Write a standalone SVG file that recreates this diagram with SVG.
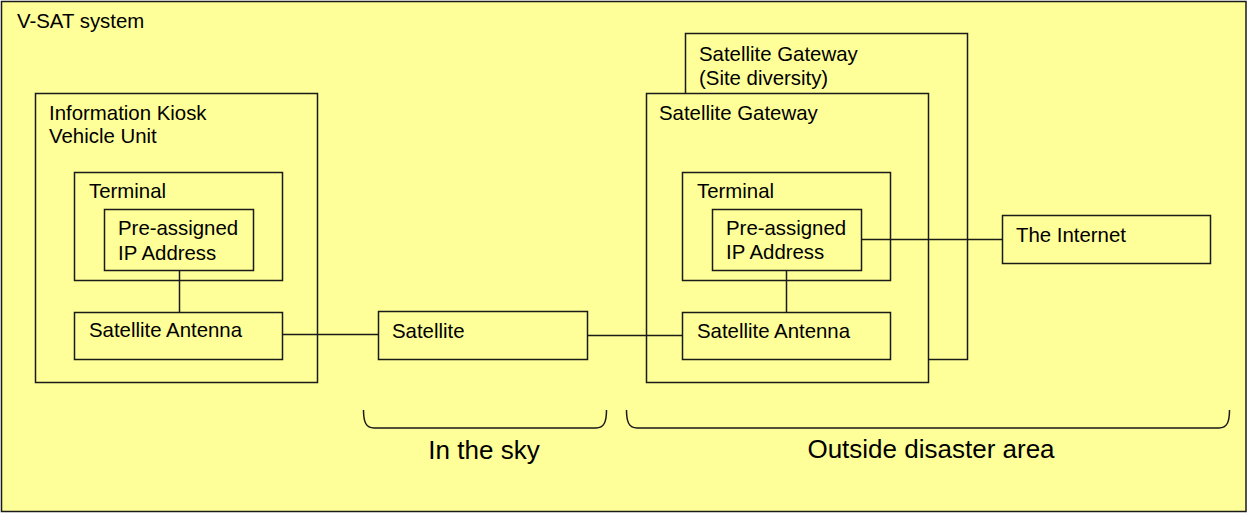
<svg xmlns="http://www.w3.org/2000/svg" width="1248" height="513" viewBox="0 0 1248 513">
<style>
.box{fill:#ffff99;stroke:#1a1a1a;stroke-width:1.5}
.ln{fill:none;stroke:#1a1a1a;stroke-width:1.5}
text{font-family:"Liberation Sans",Arial,sans-serif;font-size:20.4px;fill:#000}
.big{font-size:26px}
</style>
<g id="vsat-system">
<rect class="box" x="1.5" y="1.5" width="1244.5" height="510"/>
<text x="17" y="28">V-SAT system</text>
</g>
<g id="kiosk">
<rect class="box" x="35.5" y="93.5" width="282" height="289"/>
<text x="49" y="120">Information Kiosk</text>
<text x="49" y="143">Vehicle Unit</text>
</g>
<g id="kiosk-terminal">
<rect class="box" x="74.5" y="172.5" width="208" height="108"/>
<text x="89" y="198">Terminal</text>
</g>
<g id="kiosk-ip">
<rect class="box" x="104.5" y="209.5" width="149" height="61"/>
<text x="118" y="235">Pre-assigned</text>
<text x="118" y="260">IP Address</text>
</g>
<g id="kiosk-antenna">
<rect class="box" x="74.5" y="312.5" width="208" height="47"/>
<text x="89" y="337">Satellite Antenna</text>
</g>
<g id="satellite">
<rect class="box" x="378.5" y="311.5" width="209" height="48"/>
<text x="392" y="338">Satellite</text>
</g>
<g id="gateway-diversity">
<rect class="box" x="685.5" y="33.5" width="282" height="326"/>
<text x="699" y="61">Satellite Gateway</text>
<text x="699" y="85">(Site diversity)</text>
</g>
<g id="gateway">
<rect class="box" x="646.5" y="93.5" width="282" height="289"/>
<text x="659" y="120">Satellite Gateway</text>
</g>
<g id="gateway-terminal">
<rect class="box" x="682.5" y="172.5" width="208" height="108"/>
<text x="697" y="198">Terminal</text>
</g>
<g id="gateway-ip">
<rect class="box" x="712.5" y="209.5" width="149" height="61"/>
<text x="726" y="235">Pre-assigned</text>
<text x="726" y="259">IP Address</text>
</g>
<g id="gateway-antenna">
<rect class="box" x="682.5" y="312.5" width="208" height="47"/>
<text x="697" y="338">Satellite Antenna</text>
</g>
<g id="internet">
<rect class="box" x="1002.5" y="215.5" width="208" height="48"/>
<text x="1016" y="242">The Internet</text>
</g>
<g id="connectors">
<line class="ln" x1="179.5" y1="270.5" x2="179.5" y2="312.5"/>
<line class="ln" x1="282.5" y1="334.5" x2="378.5" y2="334.5"/>
<line class="ln" x1="587.5" y1="335.5" x2="682.5" y2="335.5"/>
<line class="ln" x1="786.5" y1="270.5" x2="786.5" y2="312.5"/>
<line class="ln" x1="861.5" y1="239.5" x2="1002.5" y2="239.5"/>
</g>
<g id="brace-sky">
<path class="ln" d="M363.5,410 C363.5,422 366,428 374,428 L596,428 C604,428 606.5,422 606.5,410"/>
<text class="big" x="484" y="459" text-anchor="middle">In the sky</text>
</g>
<g id="brace-outside">
<path class="ln" d="M626.5,410 C626.5,422 629,428 637,428 L1219,428 C1227,428 1229.5,422 1229.5,410"/>
<text class="big" x="931" y="458" text-anchor="middle">Outside disaster area</text>
</g>
</svg>
